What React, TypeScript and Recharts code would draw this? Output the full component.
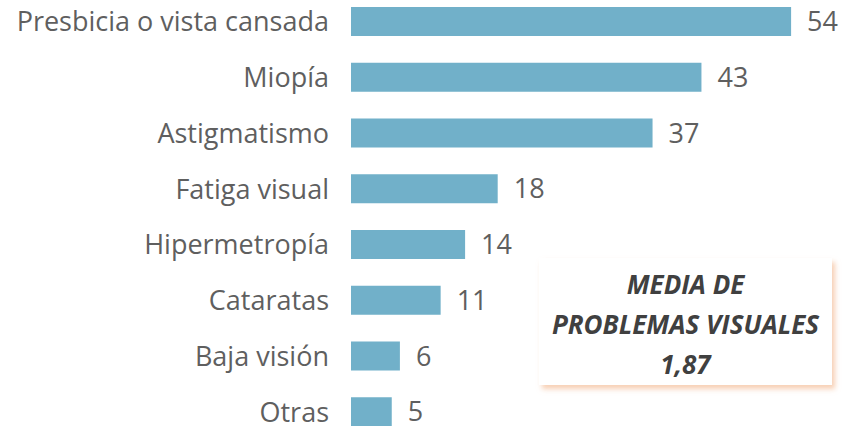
import { BarChart, Bar, XAxis, YAxis, LabelList } from 'recharts';

const categories = [
  'Presbicia o vista cansada',
  'Miopía',
  'Astigmatismo',
  'Fatiga visual',
  'Hipermetropía',
  'Cataratas',
  'Baja visión',
  'Otras',
];
const values = [54, 43, 37, 18, 14, 11, 6, 5];
const calloutLines = ['MEDIA DE', 'PROBLEMAS VISUALES', '1,87'];

const data = categories.map((name, i) => ({ name, value: values[i] }));

const FONT = '"Open Sans", sans-serif';

export default function App() {
  return (
    <div
      style={{
        position: 'absolute',
        left: 0,
        top: 0,
        width: 842,
        height: 426,
        overflow: 'hidden',
        background: '#fff',
        fontFamily: FONT,
      }}
    >
      {/* chart is taller than the frame, so the outer rows bleed off like the original */}
      <div style={{ position: 'absolute', left: 0, top: -6.4 }}>
        <BarChart
          width={842}
          height={446}
          data={data}
          layout="vertical"
          margin={{ top: 0, right: 2, bottom: 0, left: 0 }}
          barSize={29}
        >
          <XAxis type="number" domain={[0, 60]} hide />
          <YAxis
            type="category"
            dataKey="name"
            width={351}
            axisLine={false}
            tickLine={false}
            tickMargin={16}
            tick={{ fontSize: 27, fill: '#5f5f5f', fontFamily: FONT }}
          />
          <Bar dataKey="value" fill="#71B0C9" isAnimationActive={false}>
            <LabelList
              dataKey="value"
              position="right"
              offset={16}
              style={{ fontSize: 27, fill: '#5f5f5f', fontFamily: FONT }}
            />
          </Bar>
        </BarChart>
      </div>

      <div
        style={{
          position: 'absolute',
          left: 539,
          top: 258,
          width: 293,
          height: 127,
          boxSizing: 'border-box',
          paddingTop: 5,
          background: '#fff',
          boxShadow: '3px 4px 5px rgba(240, 170, 120, 0.55)',
          display: 'flex',
          flexDirection: 'column',
          justifyContent: 'center',
          alignItems: 'center',
          fontWeight: 700,
          fontStyle: 'italic',
          fontSize: 26,
          lineHeight: '40px',
          color: '#404040',
          whiteSpace: 'nowrap',
        }}
      >
        {calloutLines.map((t) => (
          <div key={t}>{t}</div>
        ))}
      </div>
    </div>
  );
}
